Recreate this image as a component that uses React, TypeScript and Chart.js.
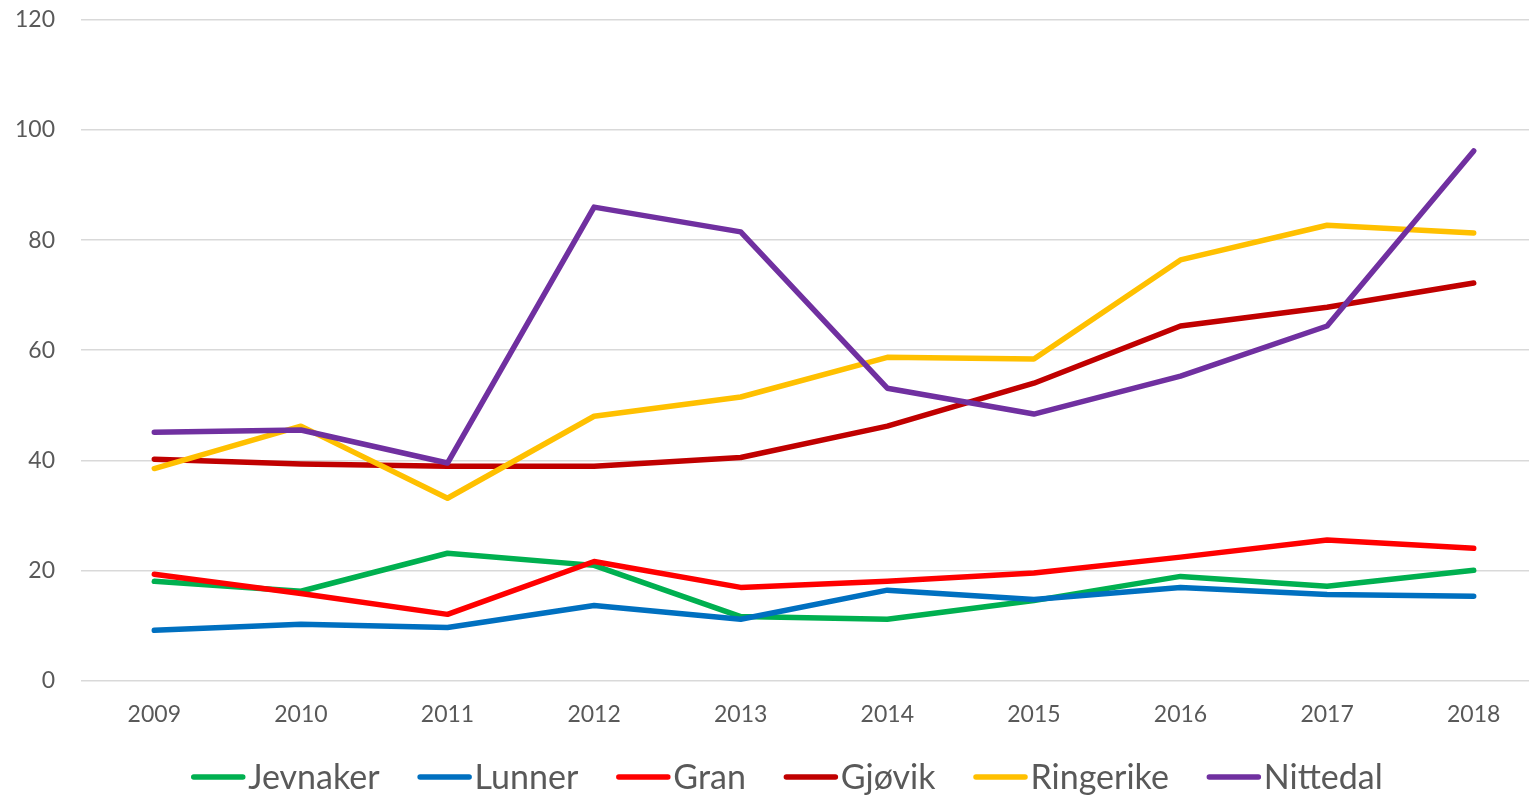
import React, { useEffect, useRef } from "react";
import { Chart, registerables } from "chart.js";

Chart.register(...registerables);

const years = ["2009", "2010", "2011", "2012", "2013", "2014", "2015", "2016", "2017", "2018"];
const jevnaker = [18.0, 16.2, 23.1, 20.9, 11.6, 11.1, 14.5, 18.9, 17.1, 20.0];
const lunner = [9.1, 10.2, 9.6, 13.6, 11.1, 16.4, 14.7, 16.9, 15.6, 15.3];
const gran = [19.3, 15.8, 12.0, 21.6, 16.9, 18.0, 19.5, 22.4, 25.5, 24.0];
const gjovik = [40.2, 39.3, 38.9, 38.9, 40.5, 46.2, 54.0, 64.4, 67.8, 72.2];
const ringerike = [38.5, 46.2, 33.1, 48.0, 51.5, 58.7, 58.4, 76.4, 82.7, 81.3];
const nittedal = [45.1, 45.5, 39.5, 86.0, 81.5, 53.1, 48.4, 55.3, 64.4, 96.2];

const seriesNames = ["Jevnaker", "Lunner", "Gran", "Gjøvik", "Ringerike", "Nittedal"];
const seriesValues = [jevnaker, lunner, gran, gjovik, ringerike, nittedal];
const seriesColors = ["#00B050", "#0070C0", "#FF0000", "#C00000", "#FFC000", "#7030A0"];

const FONT = "Lato, 'Open Sans', sans-serif";
const TEXT_COLOR = "#595959";

const legendPlugin = {
  id: "bottomLineLegend",
  afterDraw(chart: any) {
    const ctx = chart.ctx;
    const datasets = chart.data.datasets;
    ctx.save();
    ctx.font = `34px ${FONT}`;
    const markerW = 54;
    const markerGap = 3;
    const itemGap = 38;
    const widths = datasets.map((d: any) => markerW + markerGap + ctx.measureText(d.label).width);
    const total = widths.reduce((a: number, b: number) => a + b, 0) + itemGap * (datasets.length - 1);
    let x = chart.width / 2 + 13 - total / 2;
    const y = 777;
    datasets.forEach((d: any, i: number) => {
      ctx.strokeStyle = d.borderColor;
      ctx.lineWidth = 5.5;
      ctx.lineCap = "round";
      ctx.beginPath();
      ctx.moveTo(x + 2.5, y);
      ctx.lineTo(x + markerW - 2.5, y);
      ctx.stroke();
      ctx.fillStyle = TEXT_COLOR;
      ctx.textBaseline = "middle";
      ctx.textAlign = "left";
      ctx.fillText(d.label, x + markerW + markerGap, y + 1);
      x += widths[i] + itemGap;
    });
    ctx.restore();
  },
};

export default function App() {
  const canvasRef = useRef<HTMLCanvasElement | null>(null);

  useEffect(() => {
    if (!canvasRef.current) return;
    const chart = new Chart(canvasRef.current, {
      type: "line",
      data: {
        labels: years,
        datasets: seriesNames.map((name, i) => ({
          label: name,
          data: seriesValues[i],
          borderColor: seriesColors[i],
          backgroundColor: seriesColors[i],
          borderWidth: 5.5,
          pointRadius: 0,
          tension: 0,
          borderCapStyle: "round" as const,
          borderJoinStyle: "round" as const,
          order: seriesNames.length - i,
        })),
      },
      options: {
        animation: false,
        responsive: false,
        maintainAspectRatio: false,
        layout: { autoPadding: false, padding: { left: 16, right: 1, top: 20, bottom: 48 } },
        plugins: {
          legend: { display: false },
          tooltip: { enabled: false },
        },
        scales: {
          x: {
            offset: true,
            grid: { display: false, drawTicks: false },
            border: { display: false },
            ticks: {
              color: TEXT_COLOR,
              font: { family: FONT, size: 23 },
              padding: 20,
              maxRotation: 0,
            },
          },
          y: {
            min: 0,
            max: 120,
            grid: { color: "#D9D9D9", lineWidth: 1.5, drawTicks: false },
            border: { display: false },
            afterFit: (scale: any) => {
              scale.width = 65;
              scale.paddingTop = 14;
              scale.paddingBottom = 14;
            },
            ticks: {
              stepSize: 20,
              color: TEXT_COLOR,
              font: { family: FONT, size: 23 },
              padding: 26,
            },
          },
        },
      },
      plugins: [legendPlugin],
    });
    return () => chart.destroy();
  }, []);

  return (
    <div style={{ position: "fixed", left: 0, top: 0, width: 1529, height: 796, overflow: "hidden", background: "#fff" }}>
      <canvas ref={canvasRef} width={1548} height={796} style={{ width: 1548, height: 796, display: "block" }} />
    </div>
  );
}
